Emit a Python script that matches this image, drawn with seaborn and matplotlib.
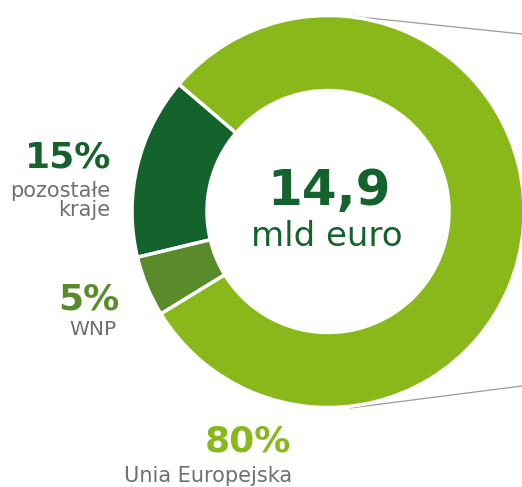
import matplotlib
matplotlib.use("Agg")
import matplotlib.pyplot as plt
import seaborn as sns

# data
labels = ["pozostałe\nkraje", "WNP", "Unia Europejska"]
shares = [15, 5, 80]
pct_text = ["15%", "5%", "80%"]
colors = ["#14622c", "#5a8b2b", "#89b81a"]
total_text = "14,9"
unit_text = "mld euro"

sns.set_style("white")
plt.rcParams["font.family"] = ["DejaVu Sans"]

W, H = 522, 487
fig = plt.figure(figsize=(W / 100, H / 100), dpi=100)
ax = fig.add_axes([0, 0, 1, 1])

# donut (pixel-like coords, y measured from bottom)
cx, cy, R = 328, H - 211.5, 196
ax.pie(shares, colors=colors, startangle=139.5, counterclock=True,
       center=(cx, cy), radius=R,
       wedgeprops=dict(width=75, edgecolor="white", linewidth=2.5))

ax.set_xlim(0, W)
ax.set_ylim(0, H)
ax.set_aspect("equal")
ax.axis("off")

# thin grey leader lines on the right
ax.plot([350, 522], [H - 16, H - 34], color="#9a9a9a", lw=0.9, zorder=0)
ax.plot([350, 522], [H - 408, H - 386], color="#9a9a9a", lw=0.9, zorder=0)

# centre text
ax.text(329, H - 205, total_text, ha="center", va="baseline",
        fontsize=36, fontweight="bold", color="#14622c")
ax.text(327, H - 246, unit_text, ha="center", va="baseline",
        fontsize=24.5, color="#14622c")

grey = "#707070"
# pozostałe kraje
ax.text(111, H - 167, pct_text[0], ha="right", va="baseline",
        fontsize=26, fontweight="bold", color=colors[0])
ax.text(110, H - 197, "pozostałe", ha="right", va="baseline",
        fontsize=15, color=grey)
ax.text(110, H - 216, "kraje", ha="right", va="baseline",
        fontsize=15, color=grey)

# WNP
ax.text(119, H - 309, pct_text[1], ha="right", va="baseline",
        fontsize=26, fontweight="bold", color=colors[1])
ax.text(117, H - 335, labels[1], ha="right", va="baseline",
        fontsize=14.5, color=grey)

# Unia Europejska
ax.text(291, H - 452, pct_text[2], ha="right", va="baseline",
        fontsize=26, fontweight="bold", color=colors[2])
ax.text(292, H - 482, labels[2], ha="right", va="baseline",
        fontsize=15, color=grey)

fig.savefig("out.png", dpi=100)
